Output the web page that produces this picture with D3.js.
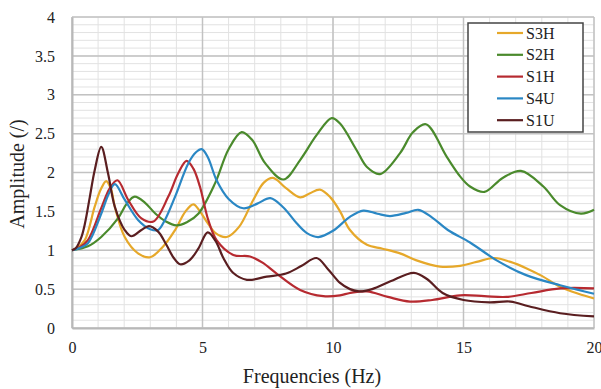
<!DOCTYPE html>
<html>
<head>
<meta charset="utf-8">
<script src="https://cdn.jsdelivr.net/npm/d3@7"></script>
<style>
  html, body { margin: 0; padding: 0; background: #fff; }
  svg { display: block; }
</style>
</head>
<body>
<svg id="chart" width="601" height="389"></svg>
<script>
// Frequency response amplitudes, [frequency (Hz), amplitude]
const s3h = [[0,1],[0.2,1.03],[0.49,1.13],[0.87,1.56],[1.1,1.78],[1.31,1.89],[1.5,1.78],[1.64,1.56],[2.02,1.17],[2.53,0.96],[2.99,0.91],[3.5,1.05],[3.95,1.26],[4.35,1.5],[4.65,1.59],[4.9,1.5],[5.2,1.35],[5.5,1.22],[5.93,1.17],[6.4,1.3],[6.95,1.65],[7.35,1.87],[7.7,1.93],[8.2,1.8],[8.74,1.68],[9.1,1.73],[9.5,1.78],[9.9,1.68],[10.27,1.5],[10.65,1.26],[11.3,1.07],[11.9,1.02],[12.57,0.96],[13.2,0.87],[14.1,0.79],[14.87,0.8],[15.5,0.85],[16.2,0.9],[16.8,0.85],[17.4,0.77],[18.0,0.67],[18.7,0.53],[19.4,0.44],[20,0.38]];
const s2h = [[0,1],[0.61,1.05],[1.12,1.17],[1.76,1.41],[2.1,1.6],[2.4,1.69],[2.8,1.61],[3.2,1.47],[3.6,1.37],[4.0,1.32],[4.4,1.36],[4.84,1.47],[5.48,1.86],[6.0,2.3],[6.5,2.52],[6.9,2.42],[7.4,2.12],[8.1,1.91],[8.74,2.16],[9.37,2.48],[9.95,2.7],[10.27,2.63],[10.9,2.29],[11.3,2.07],[11.8,1.98],[12.57,2.25],[13.07,2.52],[13.56,2.62],[14.36,2.2],[14.87,1.95],[15.25,1.82],[15.8,1.75],[16.5,1.93],[17.2,2.02],[18.06,1.82],[18.7,1.58],[19.5,1.47],[20,1.52]];
const s1h = [[0,1],[0.3,1.04],[0.61,1.13],[1.12,1.54],[1.45,1.8],[1.74,1.9],[2.15,1.65],[2.66,1.41],[3.12,1.37],[3.69,1.69],[4.07,1.99],[4.39,2.15],[4.65,2.05],[4.9,1.82],[5.22,1.39],[5.54,1.13],[6.18,0.94],[6.82,0.92],[7.3,0.84],[7.84,0.7],[8.74,0.49],[9.63,0.41],[10.27,0.42],[10.65,0.45],[11.3,0.47],[12.1,0.4],[12.95,0.34],[13.8,0.36],[14.87,0.42],[15.8,0.41],[16.65,0.4],[17.6,0.45],[18.7,0.51],[20,0.51]];
const s4u = [[0,1],[0.3,1.03],[0.61,1.09],[1.12,1.47],[1.4,1.72],[1.64,1.85],[2.02,1.65],[2.53,1.39],[3.0,1.27],[3.3,1.26],[3.56,1.39],[3.95,1.69],[4.46,2.12],[4.75,2.26],[4.97,2.3],[5.2,2.2],[5.54,1.9],[6.0,1.66],[6.56,1.54],[7.1,1.6],[7.6,1.67],[8.1,1.55],[8.6,1.35],[9.0,1.22],[9.44,1.17],[10.0,1.25],[10.65,1.43],[11.16,1.51],[11.7,1.47],[12.18,1.44],[12.8,1.48],[13.27,1.52],[13.8,1.42],[14.4,1.26],[15.25,1.1],[16.27,0.87],[17.4,0.68],[18.7,0.55],[19.4,0.49],[20,0.44]];
const s1u = [[0,1],[0.15,1.03],[0.36,1.17],[0.5,1.35],[0.68,1.68],[0.87,2.03],[1.12,2.33],[1.38,1.99],[1.64,1.56],[2.02,1.26],[2.27,1.18],[2.66,1.26],[2.95,1.31],[3.3,1.24],[3.6,1.08],[3.9,0.9],[4.14,0.82],[4.5,0.87],[4.84,1.02],[5.2,1.23],[5.5,1.12],[5.8,0.9],[6.17,0.71],[6.7,0.62],[7.46,0.66],[8.2,0.7],[8.8,0.8],[9.37,0.9],[9.8,0.76],[10.27,0.58],[10.65,0.5],[11.0,0.47],[11.5,0.5],[12.2,0.6],[13.1,0.71],[13.6,0.63],[14.2,0.45],[15.0,0.36],[16.0,0.33],[16.8,0.34],[17.5,0.28],[18.7,0.19],[20,0.15]];

const seriesNames = ["S3H", "S2H", "S1H", "S4U", "S1U"];
const seriesValues = [s3h, s2h, s1h, s4u, s1u];
const seriesColors = ["#E6A82A", "#4A8A2C", "#B62A30", "#2A87C4", "#5A1E20"];

const xTicks = [0, 5, 10, 15, 20];
const yTicks = [0, 0.5, 1, 1.5, 2, 2.5, 3, 3.5, 4];

const FONT = "Liberation Serif";
const svg = d3.select("#chart");
const margin = { left: 72, right: 7, top: 17, bottom: 61 };
const W = 601, H = 389;

const x = d3.scaleLinear().domain([0, 20]).range([margin.left, W - margin.right]);
const y = d3.scaleLinear().domain([0, 4]).range([H - margin.bottom, margin.top]);

// minor grid: every 1 Hz and every 0.1
const g = svg.append("g");
g.selectAll("line.vminor").data(d3.range(0, 21, 1)).join("line")
  .attr("x1", d => x(d)).attr("x2", d => x(d))
  .attr("y1", y(0)).attr("y2", y(4))
  .attr("stroke", "#e2e2e2").attr("stroke-width", 1);
g.selectAll("line.hminor").data(d3.range(0, 40.5, 1).map(d => d / 10)).join("line")
  .attr("y1", d => y(d)).attr("y2", d => y(d))
  .attr("x1", x(0)).attr("x2", x(20))
  .attr("stroke", "#e2e2e2").attr("stroke-width", 1);

// major grid
g.selectAll("line.vmajor").data(xTicks).join("line")
  .attr("x1", d => x(d)).attr("x2", d => x(d))
  .attr("y1", y(0)).attr("y2", y(4))
  .attr("stroke", "#c2c2c2").attr("stroke-width", 1.5);
g.selectAll("line.hmajor").data(yTicks).join("line")
  .attr("y1", d => y(d)).attr("y2", d => y(d))
  .attr("x1", x(0)).attr("x2", x(20))
  .attr("stroke", "#c2c2c2").attr("stroke-width", 1.5);

// axes
const xAxis = d3.axisBottom(x).tickValues(xTicks).tickSize(0).tickPadding(14).tickFormat(d3.format("d"));
const yAxis = d3.axisLeft(y).tickValues(yTicks).tickSize(0).tickPadding(17).tickFormat(d => String(d));
const gx = svg.append("g").attr("transform", `translate(0,${y(0)})`).call(xAxis);
const gy = svg.append("g").attr("transform", `translate(${x(0)},0)`).call(yAxis);
[gx, gy].forEach(a => {
  a.attr("font-family", FONT).attr("font-size", 16);
  a.select(".domain").attr("stroke", "#b8b8b8").attr("stroke-width", 2);
  a.selectAll("text").attr("fill", "#222");
});

// curves
const line = d3.line().x(d => x(d[0])).y(d => y(d[1])).curve(d3.curveCatmullRom.alpha(0.5));
svg.append("g").selectAll("path").data(seriesValues).join("path")
  .attr("d", line)
  .attr("fill", "none")
  .attr("stroke", (d, i) => seriesColors[i])
  .attr("stroke-width", 2.2)
  .attr("stroke-linejoin", "round");

// axis titles
svg.append("text").attr("x", 312).attr("y", 383)
  .attr("text-anchor", "middle").attr("font-family", FONT).attr("font-size", 20)
  .attr("fill", "#222").text("Frequencies (Hz)");
svg.append("text").attr("transform", "translate(24,174) rotate(-90)")
  .attr("text-anchor", "middle").attr("font-family", FONT).attr("font-size", 20)
  .attr("fill", "#222").text("Amplitude (/)");

// legend
const lg = svg.append("g");
lg.append("rect").attr("x", 468).attr("y", 23).attr("width", 115).attr("height", 109)
  .attr("fill", "#fff").attr("stroke", "#444").attr("stroke-width", 1.5);
const items = lg.selectAll("g.item").data(seriesNames).join("g")
  .attr("transform", (d, i) => `translate(0,${33 + i * 21.8})`);
items.append("line").attr("x1", 497).attr("x2", 523).attr("y1", 0).attr("y2", 0)
  .attr("stroke", (d, i) => seriesColors[i]).attr("stroke-width", 2.2);
items.append("text").attr("x", 526).attr("y", 0).attr("dy", "0.35em")
  .attr("font-family", FONT).attr("font-size", 16).attr("fill", "#222").text(d => d);
</script>
</body>
</html>
